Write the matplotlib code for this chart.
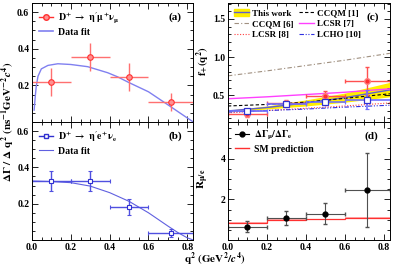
import numpy as np
import matplotlib
matplotlib.use("Agg")
import matplotlib.pyplot as plt
from matplotlib.ticker import MultipleLocator
from matplotlib.patches import Patch
from matplotlib.lines import Line2D

plt.rcParams['font.family'] = ['Liberation Serif', 'DejaVu Serif']
plt.rcParams['font.weight'] = 'bold'
plt.rcParams['mathtext.fontset'] = 'stix'
plt.rcParams['mathtext.default'] = 'bf'
plt.rcParams['font.size'] = 7

#
# q2 bins
#
q2_c = np.array([0.1, 0.3, 0.5, 0.715])
q2_lo = np.array([0.0, 0.2, 0.4, 0.6])
q2_hi = np.array([0.2, 0.4, 0.6, 0.83])
q2_edges = [0.0, 0.2, 0.4, 0.6, 0.83]

#
# (a) D+ -> eta' mu nu
#
rate_mu = [0.22, 0.356, 0.245, 0.109]
rate_mu_err = [0.076, 0.077, 0.075, 0.048]
fit_mu_q2 = [0.011, 0.017, 0.022, 0.031, 0.048, 0.082, 0.133, 0.2, 0.287,
             0.39, 0.44, 0.5, 0.6, 0.7, 0.75, 0.8, 0.831]
fit_mu_val = [0.065, 0.142, 0.196, 0.25, 0.29, 0.309, 0.318, 0.314, 0.302,
              0.269, 0.247, 0.215, 0.165, 0.094, 0.058, 0.022, 0.0]

#
# (b) D+ -> eta' e nu
#
rate_e = [0.323, 0.323, 0.182, 0.039]
rate_e_err = [0.055, 0.055, 0.044, 0.023]
fit_e_q2 = [0.0, 0.1, 0.2, 0.3, 0.4, 0.5, 0.6, 0.7, 0.75, 0.8, 0.831]
fit_e_val = [0.325, 0.322, 0.316, 0.297, 0.261, 0.213, 0.15, 0.077, 0.042, 0.012, 0.0]

#
# (c) form factor
#
ff_mu = [0.26, 0.40, 0.487, 0.687]
ff_mu_err = [0.05, 0.045, 0.07, 0.18]
ff_e = [0.295, 0.383, 0.413, 0.444]
ff_e_err = [0.02, 0.03, 0.043, 0.12]
th_q2 = [0.0, 0.2, 0.4, 0.6, 0.83]
band_mid = [0.295, 0.34, 0.40, 0.47, 0.57]
band_lo = [0.285, 0.32, 0.36, 0.41, 0.48]
band_hi = [0.305, 0.36, 0.44, 0.53, 0.67]
ccqm1 = [0.36, 0.38, 0.41, 0.46, 0.52]
ccqm6 = [0.755, 0.82, 0.89, 0.96, 1.05]
lcsr7 = [0.455, 0.48, 0.51, 0.54, 0.585]
lcsr8 = [0.27, 0.30, 0.33, 0.36, 0.40]
lcho10 = [0.28, 0.30, 0.32, 0.345, 0.37]

#
# (d) ratio
#
ratio = [0.65, 1.06, 1.30, 2.47]
ratio_lo = [0.25, 0.33, 0.49, 1.85]
ratio_hi = [0.28, 0.35, 0.54, 1.83]
sm_ratio = [0.86, 0.98, 1.01, 1.09]
sm_err = 0.03

red = '#ff3030'
blue = '#3030d0'


def style(ax, ymin, yticks):
    ax.set_xlim(0, 0.83)
    ax.xaxis.set_major_locator(MultipleLocator(0.2))
    ax.xaxis.set_minor_locator(MultipleLocator(0.05))
    ax.yaxis.set_minor_locator(MultipleLocator(ymin))
    ax.set_yticks(yticks)
    ax.tick_params(which='both', direction='in', top=True, right=True,
                   labelsize=7, pad=2)
    ax.tick_params(which='major', length=4, width=0.6)
    ax.tick_params(which='minor', length=2, width=0.6)
    for s in ax.spines.values():
        s.set_linewidth(0.7)


fig = plt.figure(figsize=(3.95, 2.67), dpi=100)

xl, wl = 0.081, 0.408
xr, wr = 0.577, 0.41
yb, h = 0.101, 0.442
yt, ht = 0.543, 0.446

ax_a = fig.add_axes([xl, yt, wl, ht])
ax_b = fig.add_axes([xl, yb, wl, h])
ax_c = fig.add_axes([xr, yt, wr, ht])
ax_d = fig.add_axes([xr, yb, wr, h])

xerr = [q2_c - q2_lo, q2_hi - q2_c]

#
# (a)
#
ax_a.plot(fit_mu_q2, fit_mu_val, color='#8080f0', lw=1)
ax_a.errorbar(q2_c, rate_mu, xerr=xerr, yerr=rate_mu_err, fmt='o', ms=4,
              color=red, mfc='#ff9090', mec=red, mew=0.8,
              ecolor='#ff7070', elinewidth=1, capsize=0)
ax_a.set_ylim(0, 0.65)
style(ax_a, 0.05, [0.2, 0.4, 0.6])
ax_a.set_xticklabels([])
h_a = [Line2D([], [], color=red, marker='o', ms=4, mfc='#ff9090', lw=1),
       Line2D([], [], color='#8080f0', lw=1.2)]
ax_a.legend(h_a, [r"$D^{+}\ \rightarrow\ \eta'\mu^{+}\nu_{\mu}$", 'Data fit'],
            loc='upper left', frameon=False, fontsize=7, handlelength=1.5,
            borderaxespad=0.3, labelspacing=0.3, handletextpad=0.5)
ax_a.text(0.93, 0.88, '(a)', transform=ax_a.transAxes, ha='right',
          va='center', fontsize=8, fontweight='bold')

#
# (b)
#
ax_b.plot(fit_e_q2, fit_e_val, color='#6060e0', lw=0.8)
ax_b.errorbar(q2_c, rate_e, xerr=xerr, yerr=rate_e_err, fmt='s', ms=3.5,
              color=blue, mfc='white', mec=blue, mew=0.8,
              ecolor='#5050e0', elinewidth=1, capsize=1.2)
ax_b.set_ylim(0, 0.65)
style(ax_b, 0.05, [0.2, 0.4, 0.6])
h_b = [Line2D([], [], color=blue, marker='s', ms=3.5, mfc='white', lw=1),
       Line2D([], [], color='#6060e0', lw=0.8)]
ax_b.legend(h_b, [r"$D^{+}\ \rightarrow\ \eta'e^{+}\nu_{e}$", 'Data fit'],
            loc='upper left', frameon=False, fontsize=7, handlelength=1.5,
            borderaxespad=0.3, labelspacing=0.3, handletextpad=0.5)
ax_b.text(0.93, 0.88, '(b)', transform=ax_b.transAxes, ha='right',
          va='center', fontsize=8, fontweight='bold')

#
# (c)
#
ax_c.fill_between(th_q2, band_lo, band_hi, color='#ffee00', lw=0)
ax_c.plot(th_q2, band_mid, color='#6060d0', lw=1)
ax_c.plot(th_q2, ccqm1, color='black', ls=(0, (3, 2)), lw=0.8)
ax_c.plot(th_q2, ccqm6, color='#a09080', ls=(0, (4, 2, 1, 2)), lw=0.8)
ax_c.plot(th_q2, lcsr7, color='#ff40ff', lw=1)
ax_c.plot(th_q2, lcsr8, color='#ff4040', ls=(0, (1, 1.5)), lw=0.8)
ax_c.plot(th_q2, lcho10, color='#3030e0', ls=(0, (4, 1.5, 1, 1.5, 1, 1.5)), lw=0.8)
ax_c.errorbar(q2_c, ff_mu, xerr=xerr, yerr=ff_mu_err, fmt='o', ms=4,
              color=red, mfc=red, mec='#ff8080', ecolor='#ff5050',
              elinewidth=1, capsize=1.2)
ax_c.errorbar(q2_c, ff_e, xerr=xerr, yerr=ff_e_err, fmt='s', ms=4,
              color=blue, mfc='white', mec=blue, mew=0.9,
              ecolor='#7070ff', elinewidth=1.2, capsize=1.2)
ax_c.set_ylim(0.15, 1.71)
style(ax_c, 0.1, [0.5, 1.0, 1.5])
ax_c.set_xticklabels([])
h_c = [(Patch(color='#ffee00'), Line2D([], [], color='#6060d0', lw=1)),
       Line2D([], [], color='black', ls=(0, (3, 2)), lw=0.8),
       Line2D([], [], color='#a09080', ls=(0, (4, 2, 1, 2)), lw=0.8),
       Line2D([], [], color='#ff40ff', lw=1),
       Line2D([], [], color='#ff4040', ls=(0, (1, 1.5)), lw=0.8),
       Line2D([], [], color='#3030e0', ls=(0, (4, 1.5, 1, 1.5, 1, 1.5)), lw=0.8)]
lab_c = ['This work', 'CCQM [6]', 'LCSR [8]', 'CCQM [1]', 'LCSR [7]', 'LCHO [10]']
order = [0, 2, 4, 1, 3, 5]
ax_c.legend([h_c[i] for i in order], lab_c, ncol=2, loc='upper left',
            frameon=False, fontsize=6.5, handlelength=1.6,
            borderaxespad=0.3, labelspacing=0.25, handletextpad=0.4,
            columnspacing=0.6)
ax_c.text(0.93, 0.88, '(c)', transform=ax_c.transAxes, ha='right',
          va='center', fontsize=8, fontweight='bold')

#
# (d)
#
sm_arr = np.array(sm_ratio)
ax_d.stairs(sm_arr + sm_err, q2_edges, baseline=sm_arr - sm_err, fill=True,
            color='#ffb0b0', lw=0)
ax_d.stairs(sm_arr, q2_edges, baseline=None, color='#ff3030', lw=0.9)
ax_d.errorbar(q2_c, ratio, xerr=xerr, yerr=[ratio_lo, ratio_hi], fmt='o',
              ms=3.5, color='black', ecolor='#505050', elinewidth=0.8,
              capsize=1.5)
ax_d.set_ylim(0, 5.8)
style(ax_d, 0.5, [2, 4])
h_d = [Line2D([], [], color='black', marker='o', ms=3.5, lw=0.8),
       Line2D([], [], color='#ff3030', lw=1)]
ax_d.legend(h_d, [r'$\Delta\Gamma_{\mu}/\Delta\Gamma_{e}$', 'SM prediction'],
            loc='upper left', frameon=False, fontsize=7, handlelength=1.5,
            borderaxespad=0.3, labelspacing=0.3, handletextpad=0.5)
ax_d.text(0.93, 0.88, '(d)', transform=ax_d.transAxes, ha='right',
          va='center', fontsize=8, fontweight='bold')

#
# axis titles
#
fig.text(0.022, 0.543,
         r'$\Delta\Gamma\ /\ \Delta\ q^{2}\ (ns^{-1}GeV^{-2}\mathit{c}^{4})$',
         rotation=90, ha='center', va='center', fontsize=8)
fig.text(0.514, 0.77, r'$f_{+}(q^{2})$', rotation=90,
         ha='center', va='center', fontsize=8)
fig.text(0.514, 0.33, r'$R_{\mu/e}$', rotation=90,
         ha='center', va='center', fontsize=8)
fig.text(0.545, 0.03, r'$q^{2}\ (GeV^{2}/\mathit{c}^{4})$',
         ha='center', va='center', fontsize=8)

fig.savefig('out.png', dpi=100)
